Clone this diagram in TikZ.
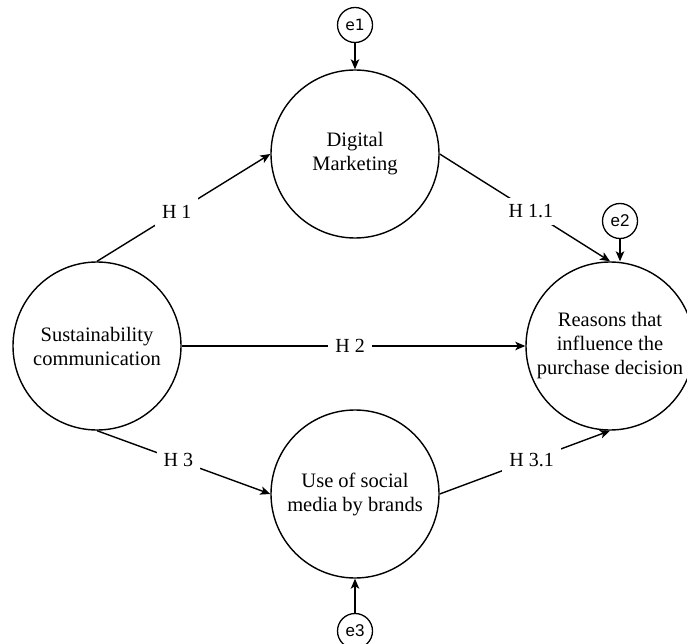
\documentclass[tikz,border=0pt]{standalone}
\usepackage{fontspec}
\setmainfont{Liberation Serif}
\newfontfamily\esans{Liberation Sans}
\newfontfamily\eone{DejaVu Sans}
\usetikzlibrary{arrows.meta}
\begin{document}
\begin{tikzpicture}[x=1pt,y=-1pt,
  big/.style={draw, circle, line width=1.4pt, minimum size=168pt, inner sep=0pt, align=center,
    font=\fontsize{20.5}{24}\selectfont},
  err/.style={draw, circle, line width=1.3pt, minimum size=35pt, inner sep=0pt,
    font=\esans\fontsize{17}{20}\selectfont},
  link/.style={line width=1.4pt, -{Stealth[length=10pt,width=8.5pt,inset=2.5pt]}},
  lbl/.style={fill=white, inner sep=7pt, font=\fontsize{20}{24}\selectfont}]
\useasboundingbox (0,0) rectangle (687,644);

\node[big] (dm) at (355,154) {Digital\\Marketing};
\node[big] (sc) at (97,346) {Sustainability\\communication};
\node[big] (rs) at (610,346) {Reasons that\\influence the\\purchase decision};
\node[big] (um) at (355,494) {Use of social\\media by brands};

\node[err, font=\eone\fontsize{15.5}{18}\selectfont] (e1) at (355,25) {e1};
\node[err] (e2) at (620,221) {e2};
\node[err] (e3) at (355,631) {e3};

\draw[link] (e1) -- (dm);
\draw[link] (e2) -- (e2 |- rs.north);
\draw[link] (e3) -- (um);

\draw[link] (sc.north) -- node[lbl, pos=0.46] {H 1} (dm.west);
\draw[link] (sc.east) -- node[lbl, pos=0.49] {H 2} (rs.west);
\draw[link] (sc.south) -- node[lbl, pos=0.47] {H 3} (um.west);
\draw[link] (dm.east) -- node[lbl, pos=0.535] {H 1.1} (rs.north);
\draw[link] (um.east) -- node[lbl, pos=0.54] {H 3.1} (rs.south);
\end{tikzpicture}
\end{document}
